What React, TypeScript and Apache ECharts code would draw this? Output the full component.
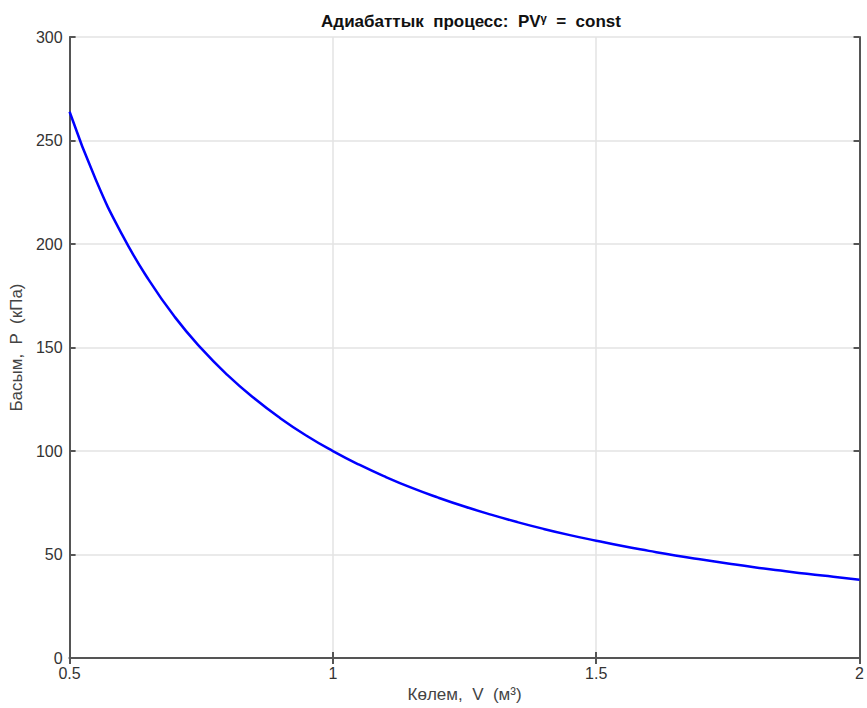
import React, { useEffect, useRef } from "react";
import * as echarts from "echarts";

const volumes = [0.5, 0.55, 0.6, 0.65, 0.7, 0.75, 0.8, 0.85, 0.9, 0.95, 1.0, 1.05, 1.1, 1.15, 1.2, 1.25, 1.3, 1.35, 1.4, 1.45, 1.5, 1.55, 1.6, 1.65, 1.7, 1.75, 1.8, 1.85, 1.9, 1.95, 2.0];
const pressures = [263.9, 230.9, 204.4, 182.8, 164.7, 149.6, 136.7, 125.6, 115.9, 107.4, 100.0, 93.4, 87.5, 82.2, 77.5, 73.2, 69.3, 65.7, 62.4, 59.4, 56.7, 54.1, 51.8, 49.6, 47.6, 45.7, 43.9, 42.3, 40.7, 39.3, 37.9];
const titleText = "Адиабаттык  процесс:  PVᵞ  =  const";
const xName = "Көлем,  V  (м³)";
const yName = "Басым,  P  (кПа)";

const FONT = "Liberation Sans, Arial, sans-serif";
const AXIS_COLOR = "#555555";

export default function App() {
  const ref = useRef<HTMLDivElement>(null);
  useEffect(() => {
    if (!ref.current) return;
    const chart = echarts.init(ref.current, undefined, { renderer: "svg" });
    const data = volumes.map((v, i) => [v, pressures[i]]);
    const common = {
      axisLine: { show: true, lineStyle: { color: AXIS_COLOR, width: 2 } },
      axisTick: { show: true, inside: true, length: 6, lineStyle: { color: AXIS_COLOR, width: 2 } },
    };
    chart.setOption({
      animation: false,
      backgroundColor: "#ffffff",
      title: {
        text: titleText,
        left: 466,
        top: 8,
        textAlign: "center",
        textStyle: { fontFamily: FONT, fontSize: 17, fontWeight: "bold", color: "#111111" },
      },
      grid: { left: 69, right: 6, top: 37, bottom: 46, containLabel: false },
      xAxis: [
        {
          type: "value",
          min: 0.5,
          max: 2,
          interval: 0.5,
          position: "bottom",
          name: xName,
          nameLocation: "middle",
          nameGap: 27,
          nameTextStyle: { fontFamily: FONT, fontSize: 17, color: "#444444" },
          ...common,
          axisLabel: { fontFamily: FONT, fontSize: 16, color: "#333333", margin: 7 },
          splitLine: { show: true, lineStyle: { color: "#e3e3e3", width: 1.5 } },
        },
        {
          type: "value",
          min: 0.5,
          max: 2,
          interval: 0.5,
          position: "top",
          ...common,
          axisLabel: { show: false },
          splitLine: { show: false },
        },
      ],
      yAxis: [
        {
          type: "value",
          min: 0,
          max: 300,
          interval: 50,
          position: "left",
          name: yName,
          nameLocation: "middle",
          nameGap: 44,
          nameTextStyle: { fontFamily: FONT, fontSize: 17, color: "#444444" },
          ...common,
          axisLabel: { fontFamily: FONT, fontSize: 16, color: "#333333", margin: 7 },
          splitLine: { show: true, lineStyle: { color: "#e3e3e3", width: 1.5 } },
        },
        {
          type: "value",
          min: 0,
          max: 300,
          interval: 50,
          position: "right",
          ...common,
          axisLabel: { show: false },
          splitLine: { show: false },
        },
      ],
      series: [
        {
          type: "line",
          data,
          smooth: true,
          showSymbol: false,
          lineStyle: { color: "#0000ff", width: 2.5 },
          xAxisIndex: 0,
          yAxisIndex: 0,
        },
      ],
    });
    return () => chart.dispose();
  }, []);
  return <div ref={ref} style={{ width: 867, height: 708, position: "absolute", left: 0, top: 0 }} />;
}
